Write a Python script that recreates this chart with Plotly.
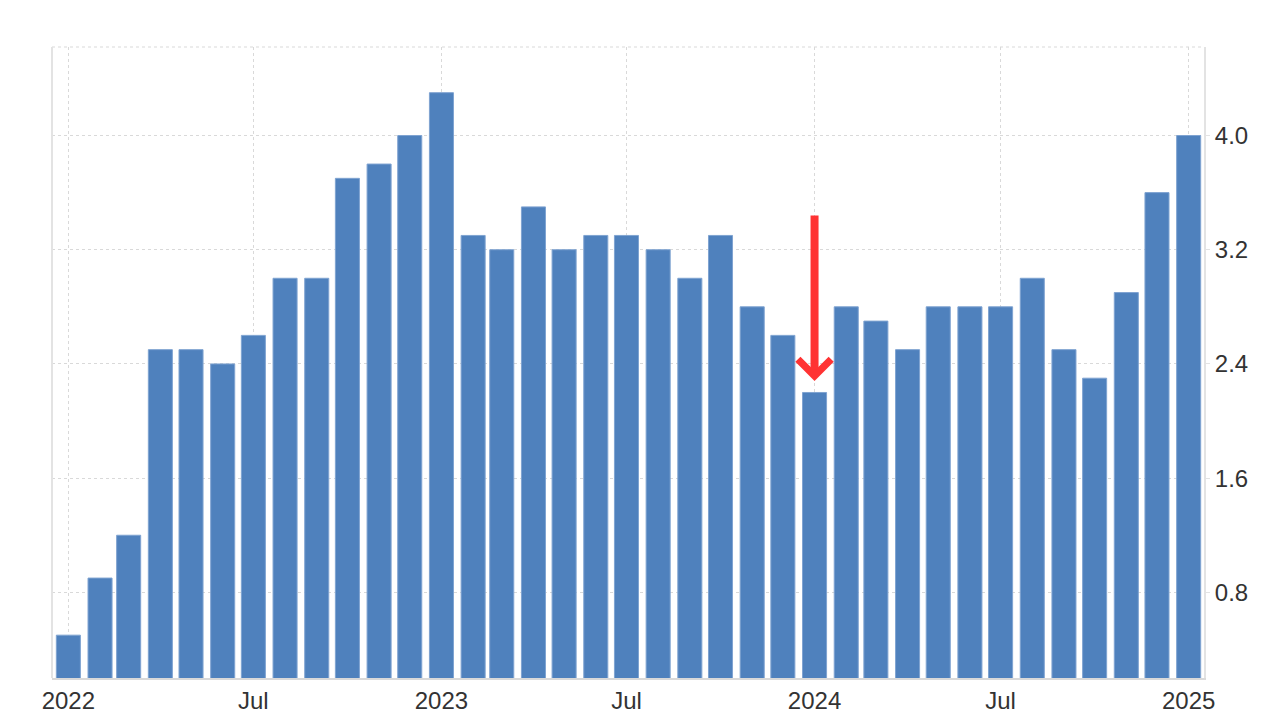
import plotly.graph_objects as go
import pandas as pd

months = pd.date_range("2022-01-01", "2025-01-01", freq="MS").strftime("%Y-%m-%d").tolist()
values = [0.5, 0.9, 1.2, 2.5, 2.5, 2.4, 2.6, 3.0, 3.0, 3.7, 3.8, 4.0,
          4.3, 3.3, 3.2, 3.5, 3.2, 3.3, 3.3, 3.2, 3.0, 3.3, 2.8, 2.6,
          2.2, 2.8, 2.7, 2.5, 2.8, 2.8, 2.8, 3.0, 2.5, 2.3, 2.9, 3.6,
          4.0]
tick_vals = ["2022-01-01", "2022-07-01", "2023-01-01", "2023-07-01",
             "2024-01-01", "2024-07-01", "2025-01-01"]
tick_text = ["2022", "Jul", "2023", "Jul", "2024", "Jul", "2025"]
y_ticks = [0.8, 1.6, 2.4, 3.2, 4.0]
arrow_x = "2024-01-01"
arrow_tail = 3.45
arrow_tip = 2.28

font_family = "Liberation Sans, Arial, sans-serif"

fig = go.Figure()
fig.add_trace(go.Bar(
    x=months, y=values,
    marker=dict(color="#4f81bd", line=dict(color="#7fa3d1", width=1)),
    hoverinfo="x+y",
))

fig.add_annotation(
    x=arrow_x, y=arrow_tip, ax=arrow_x, ay=arrow_tail,
    xref="x", yref="y", axref="x", ayref="y",
    showarrow=True, arrowhead=4, arrowsize=0.8, arrowwidth=8,
    arrowcolor="#ff3333", text="",
)

# top dotted border
fig.add_shape(type="line", xref="paper", yref="paper", x0=0, x1=1, y0=1, y1=1,
              line=dict(color="#d9d9d9", width=1, dash="dot"))
# left border line
fig.add_shape(type="line", xref="paper", yref="paper", x0=0, x1=0, y0=0, y1=1,
              line=dict(color="#e3e3e3", width=2))

fig.update_layout(
    width=1280, height=720,
    margin=dict(l=44, r=84, t=39, b=50, autoexpand=False),
    paper_bgcolor="white", plot_bgcolor="white",
    bargap=0.16, showlegend=False,
    font=dict(family=font_family, size=24, color="#333333"),
    xaxis=dict(
        type="date", automargin=False,
        range=["2021-12-16", "2025-01-16"],
        tickvals=tick_vals, ticktext=tick_text,
        showgrid=True, gridcolor="#d9d9d9", griddash="dot", gridwidth=1,
        showline=True, linecolor="#d9d9d9", linewidth=2,
        ticks="", tickfont=dict(size=24, color="#333333"),
        zeroline=False, fixedrange=True,
    ),
    yaxis=dict(
        side="right", automargin=False, range=[0.2, 4.62],
        tickvals=y_ticks, ticktext=[f"{v:.1f}" for v in y_ticks],
        showgrid=True, gridcolor="#d9d9d9", griddash="dot", gridwidth=1,
        showline=True, linecolor="#e3e3e3", linewidth=2, mirror=False,
        ticks="outside", ticklen=4, tickcolor="#e3e3e3",
        tickfont=dict(size=24, color="#333333"),
        zeroline=False, fixedrange=True,
    ),
)

fig.write_html("out.html")
